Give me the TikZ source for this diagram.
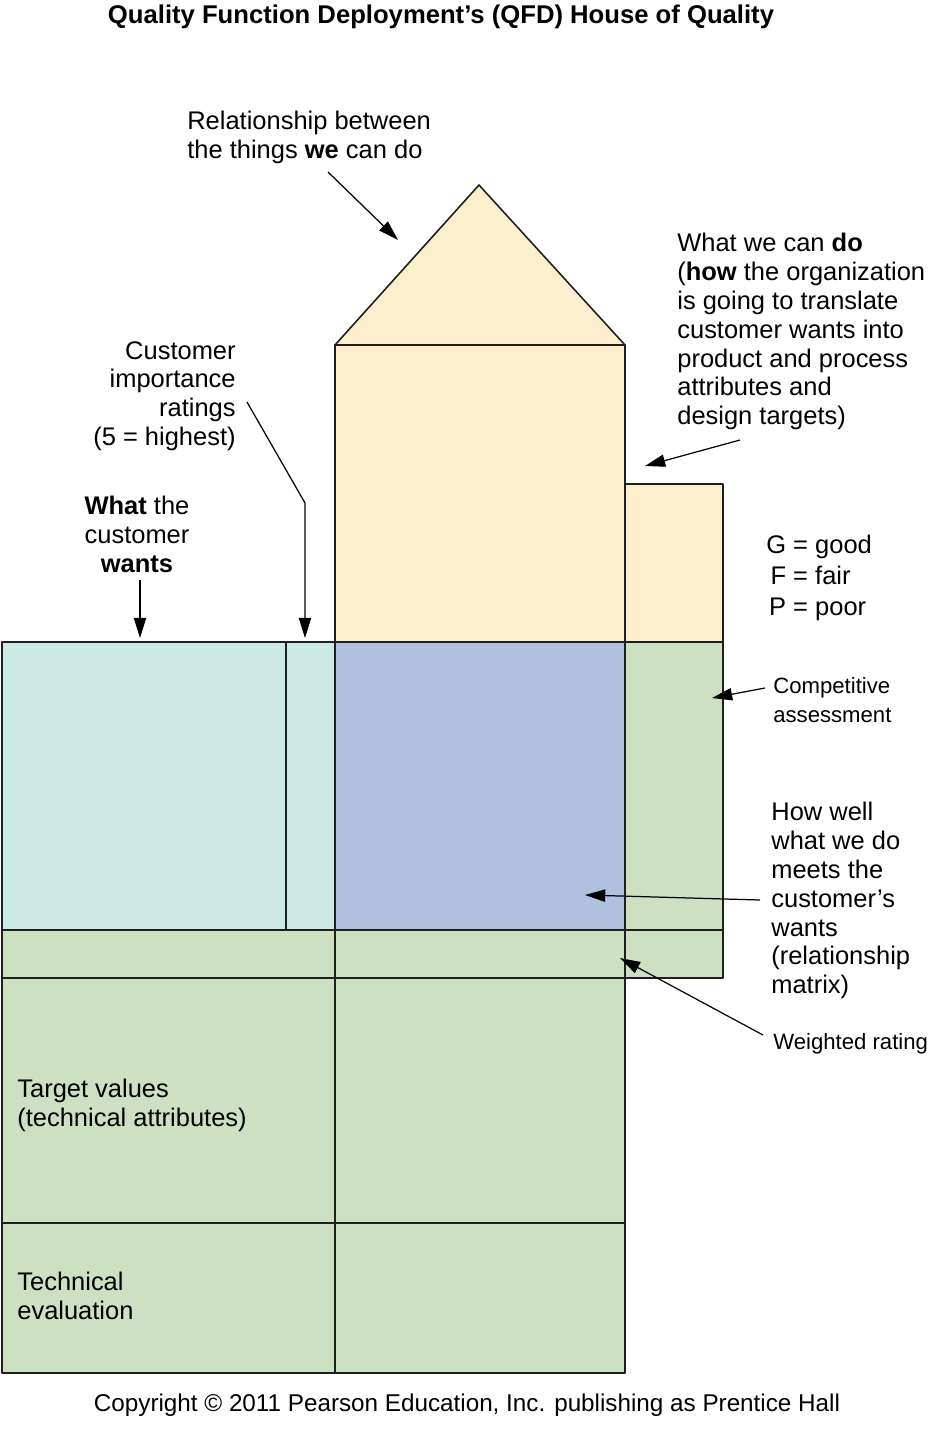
\documentclass[tikz,border=0pt]{standalone}
\usepackage{fontspec}
\setmainfont{Liberation Sans}
\usetikzlibrary{arrows.meta}
\definecolor{roofc}{HTML}{FCEFCE}
\definecolor{wantsc}{HTML}{CDE9E3}
\definecolor{matrixc}{HTML}{B0C0DF}
\definecolor{assessc}{HTML}{CEE0C2}
\begin{document}
\begin{tikzpicture}[x=0.02cm, y=-0.02cm, >={Triangle[length=11.5pt,width=7pt]}, line join=round,
	box/.style={draw=black!88, line width=0.9pt},
	pointer/.style={->, line width=0.7pt},
	lbl/.style={font=\fontsize{14.5}{16.4}\selectfont, inner sep=0pt, align=left},
	small/.style={font=\fontsize{12.6}{16.4}\selectfont, inner sep=0pt, align=left}]
	\useasboundingbox (0,0) rectangle (934,1438);
	\draw[box,fill=roofc] (335,345)--(479,185)--(625,345)--cycle;
	\draw[box,fill=roofc] (335,345) rectangle (625,642) (625,484) rectangle (723,642);
	\draw[box,fill=wantsc] (2,642) rectangle (286,930) (286,642) rectangle (335,930);
	\draw[box,fill=matrixc] (335,642) rectangle (625,930);
	\draw[box,fill=assessc] (625,642) rectangle (723,930) (2,930) rectangle (335,978) (335,930) rectangle (625,978) (625,930) rectangle (723,978);
	\draw[box,fill=assessc] (2,978) rectangle (335,1223) (335,978) rectangle (625,1223) (2,1223) rectangle (335,1373) (335,1223) rectangle (625,1373);
	\node[anchor=north, font=\fontsize{14.6}{16.4}\selectfont\bfseries, inner sep=0pt] (title) at (441,5) {Quality Function Deployment’s (QFD) House of Quality};
	\node[lbl, anchor=north west] (between) at (187,111) {Relationship between\\the things \textbf{we} can do};
	\node[lbl, anchor=north west] (cando) at (677,233) {What we can \textbf{do}\\(\textbf{how} the organization\\is going to translate\\customer wants into\\product and process\\attributes and\\design targets)};
	\node[lbl, anchor=north east, align=right] (ratings) at (236,341) {Customer\\importance\\ratings\\(5 = highest)};
	\node[lbl, anchor=north, align=center] (wants) at (137,496) {\textbf{What} the\\customer\\\textbf{wants}};
	\node[anchor=north west, inner sep=0pt, font=\fontsize{14.5}{17.5}\selectfont] (legend) at (766,532) {\begin{tabular}{@{}r@{ = }l@{}}G&good\\F&fair\\P&poor\end{tabular}};
	\node[small, anchor=north west] (compet) at (773,677) {Competitive\\assessment};
	\node[lbl, anchor=north west] (howwell) at (771,802) {How well\\what we do\\meets the\\customer’s\\wants\\(relationship\\matrix)};
	\node[small, anchor=north west] (weighted) at (773,1033) {Weighted rating};
	\node[lbl, anchor=north west] (target) at (17,1079) {Target values\\(technical attributes)};
	\node[lbl, anchor=north west] (techeval) at (17,1272) {Technical\\evaluation};
	\node[anchor=north, inner sep=0pt, font=\fontsize{13.8}{16}\selectfont] (copy) at (467,1394) {Copyright © 2011 Pearson Education, Inc. publishing as Prentice Hall};
	\coordinate (roofpt) at (398,240);
	\coordinate (ratingpt) at (305,638);
	\coordinate (wantspt) at (140,638);
	\coordinate (hows) at (645,466);
	\coordinate (assesspt) at (712,698);
	\coordinate (matrixpt) at (585,895);
	\coordinate (weightpt) at (620,958);
	\draw[pointer] (328,172)--(roofpt);
	\draw[pointer] (247,402)--(305,503)--(ratingpt);
	\draw[pointer] (140,580)--(wantspt);
	\draw[pointer] (740,440)--(hows);
	\draw[pointer] (765,688)--(assesspt);
	\draw[pointer] (760,900)--(matrixpt);
	\draw[pointer] (763,1035)--(weightpt);
\end{tikzpicture}
\end{document}
